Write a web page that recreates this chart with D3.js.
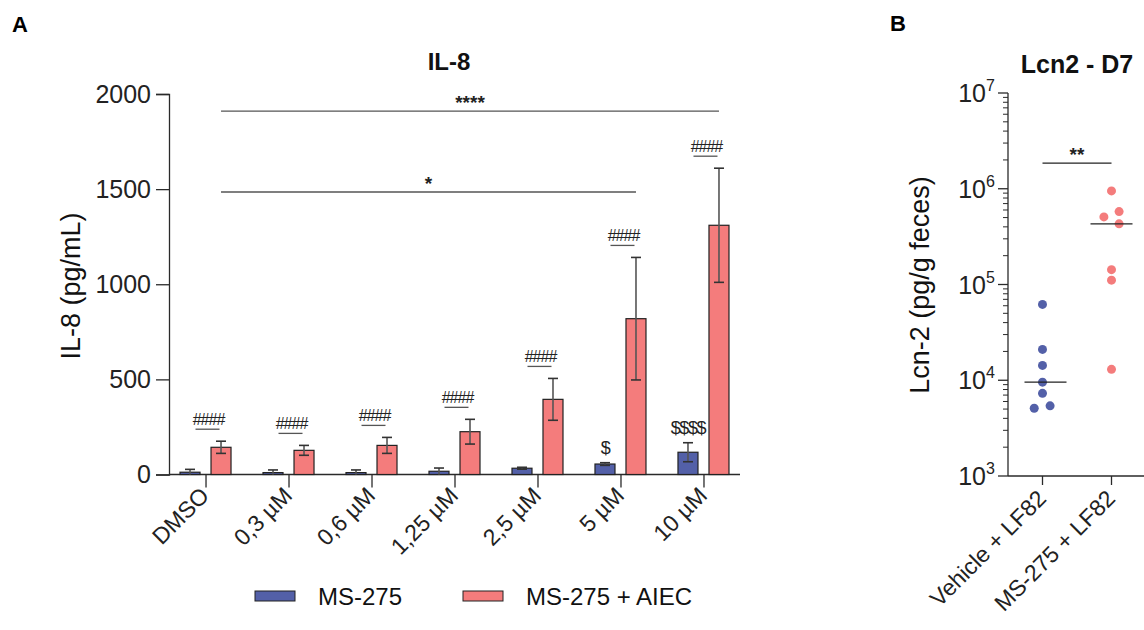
<!DOCTYPE html>
<html>
<head>
<meta charset="utf-8">
<script src="https://cdn.jsdelivr.net/npm/d3@7"></script>
<style>
  html, body { margin: 0; padding: 0; background: #fff; }
  svg { display: block; font-family: "Liberation Sans", Arial, sans-serif; }
</style>
</head>
<body>
<svg id="chart" width="1144" height="630"></svg>
<script>
// ---------------- DATA ----------------
// Panel A: IL-8
const categories = ["DMSO", "0,3 µM", "0,6 µM", "1,25 µM", "2,5 µM", "5 µM", "10 µM"];
const seriesNames = ["MS-275", "MS-275 + AIEC"];
const ms275Mean = [12, 10, 10, 17, 33, 55, 117];
const ms275Err  = [15, 14, 14, 17, 5, 7, 50];
const aiecMean  = [143, 127, 153, 225, 395, 819, 1310];
const aiecErr   = [32, 26, 42, 65, 110, 322, 300];
const hashLabels   = ["####", "####", "####", "####", "####", "####", "####"];
const dollarLabels = ["", "", "", "", "", "$", "$$$$"];
const yTicksA = [0, 500, 1000, 1500, 2000];
const bracketsA = [
  { from: "DMSO", to: "10 µM", value: 1910, label: "****" },
  { from: "DMSO", to: "5 µM",  value: 1485, label: "*" }
];

// Panel B: Lcn2 - D7
const groupsB = ["Vehicle + LF82", "MS-275 + LF82"];
const vehicleVals = [62000, 21000, 14300, 9550, 7300, 5100, 5400];
const vehicleJitter = [0, 0, 0, 0, 0, -0.12, 0.11];
const ms275Vals = [950000, 508000, 577000, 430000, 143000, 111000, 13000];
const ms275Jitter = [0, -0.11, 0.11, 0.11, 0, 0, 0];
const yTicksB = [1e3, 1e4, 1e5, 1e6, 1e7];
const bracketB = { value: 1.85e6, label: "**" };

// ---------------- STYLE ----------------
const blue = "#5360A8";
const red = "#F47C7C";
const ink = "#2a2a2a";

const svg = d3.select("#chart");

// ================= PANEL A =================
const xA = d3.scalePoint().domain(categories).range([169, 740]).padding(0.44);
const x1 = d3.scaleBand().domain(seriesNames).range([-25.5, 25.5]).paddingInner(0.355);
const yA = d3.scaleLinear().domain([0, 2000]).range([474.5, 94]);

const gA = svg.append("g");

// Panel label / title
svg.append("text").attr("x", 12).attr("y", 32).attr("font-size", 22).attr("font-weight", "bold").attr("fill", "#000").text("A");
svg.append("text").attr("x", 449).attr("y", 70).attr("text-anchor", "middle").attr("font-size", 24).attr("font-weight", "bold").attr("fill", "#111").text("IL-8");

// Y axis
const yAxisA = d3.axisLeft(yA).tickValues(yTicksA).tickSize(13).tickPadding(5).tickFormat(d3.format("d"));
const gy = gA.append("g").attr("transform", "translate(169,0)").call(yAxisA);
gy.select(".domain").attr("stroke", ink).attr("stroke-width", 1.3);
gy.selectAll(".tick line").attr("stroke", ink).attr("stroke-width", 1.3);
gy.selectAll(".tick text").attr("font-size", 25).attr("fill", "#222").attr("font-family", "Liberation Sans, Arial, sans-serif");

// X axis
const xAxisA = d3.axisBottom(xA).tickSize(13).tickSizeOuter(0).tickFormat("");
const gx = gA.append("g").attr("transform", "translate(0,474.5)").call(xAxisA);
gx.select(".domain").attr("stroke", ink).attr("stroke-width", 1.3).attr("d", "M169,0H740");
gx.selectAll(".tick line").attr("stroke", ink).attr("stroke-width", 1.3);

// X labels rotated
gA.append("g").selectAll("text").data(categories).join("text")
  .attr("transform", d => `translate(${xA(d) + 5},${497}) rotate(-45)`)
  .attr("text-anchor", "end")
  .attr("font-size", 23)
  .attr("fill", "#222")
  .text(d => d);

// Y title
gA.append("text")
  .attr("transform", "translate(80,286) rotate(-90)")
  .attr("text-anchor", "middle")
  .attr("font-size", 27)
  .attr("fill", "#111")
  .text("IL-8 (pg/mL)");

// Bars
const rows = categories.map((c, i) => ({
  cat: c,
  vals: [
    { s: seriesNames[0], m: ms275Mean[i], e: ms275Err[i], color: blue },
    { s: seriesNames[1], m: aiecMean[i], e: aiecErr[i], color: red }
  ]
}));

const grp = gA.append("g").selectAll("g").data(rows).join("g")
  .attr("transform", d => `translate(${xA(d.cat)},0)`);

grp.selectAll("rect").data(d => d.vals).join("rect")
  .attr("x", d => x1(d.s))
  .attr("width", x1.bandwidth())
  .attr("y", d => yA(d.m))
  .attr("height", d => yA(0) - yA(d.m))
  .attr("fill", d => d.color)
  .attr("stroke", "#222")
  .attr("stroke-width", 1.2);

// Error bars
const eb = grp.selectAll("g.eb").data(d => d.vals).join("g").attr("class", "eb");
eb.append("line")
  .attr("x1", d => x1(d.s) + x1.bandwidth() / 2).attr("x2", d => x1(d.s) + x1.bandwidth() / 2)
  .attr("y1", d => yA(Math.max(0, d.m - d.e))).attr("y2", d => yA(d.m + d.e))
  .attr("stroke", "#555").attr("stroke-width", 1.6);
eb.append("line")
  .attr("x1", d => x1(d.s) + x1.bandwidth() / 2 - 5).attr("x2", d => x1(d.s) + x1.bandwidth() / 2 + 5)
  .attr("y1", d => yA(d.m + d.e)).attr("y2", d => yA(d.m + d.e))
  .attr("stroke", "#333").attr("stroke-width", 1.6);
eb.filter(d => d.m - d.e > 0).append("line")
  .attr("x1", d => x1(d.s) + x1.bandwidth() / 2 - 5).attr("x2", d => x1(d.s) + x1.bandwidth() / 2 + 5)
  .attr("y1", d => yA(d.m - d.e)).attr("y2", d => yA(d.m - d.e))
  .attr("stroke", "#333").attr("stroke-width", 1.6);

// #### annotations
categories.forEach((c, i) => {
  const top = yA(aiecMean[i] + aiecErr[i]) - 12;
  const cx = xA(c) + 2;
  gA.append("line").attr("x1", cx - 12).attr("x2", cx + 12).attr("y1", top).attr("y2", top)
    .attr("stroke", "#555").attr("stroke-width", 1.3);
  gA.append("text").attr("x", cx + 1).attr("y", top - 4).attr("text-anchor", "middle")
    .attr("font-size", 16).attr("letter-spacing", -1).attr("fill", "#222").text(hashLabels[i]);
  if (dollarLabels[i]) {
    const bt = yA(ms275Mean[i] + ms275Err[i]) - 9;
    gA.append("text").attr("x", xA(c) + x1(seriesNames[0]) + x1.bandwidth() / 2).attr("y", bt)
      .attr("text-anchor", "middle").attr("font-size", 18).attr("letter-spacing", -1.4)
      .attr("fill", "#222").text(dollarLabels[i]);
  }
});

// Significance brackets
const redCenter = c => xA(c) + x1(seriesNames[1]) + x1.bandwidth() / 2;
bracketsA.forEach(b => {
  const y = yA(b.value);
  gA.append("line").attr("x1", redCenter(b.from)).attr("x2", redCenter(b.to)).attr("y1", y).attr("y2", y)
    .attr("stroke", "#555").attr("stroke-width", 1.3);
  gA.append("text").attr("x", (redCenter(b.from) + redCenter(b.to)) / 2).attr("y", y - 2)
    .attr("text-anchor", "middle").attr("font-size", 19).attr("font-weight", "bold").attr("fill", "#222").text(b.label);
});

// Legend
const legend = gA.append("g");
const legItems = [
  { name: seriesNames[0], color: blue, x: 255 },
  { name: seriesNames[1], color: red, x: 463 }
];
legItems.forEach(l => {
  legend.append("rect").attr("x", l.x).attr("y", 591).attr("width", 40).attr("height", 10)
    .attr("fill", l.color).attr("stroke", "#222").attr("stroke-width", 1);
  legend.append("text").attr("x", l.x + 63).attr("y", 605).attr("font-size", 24).attr("fill", "#111").text(l.name);
});

// ================= PANEL B =================
const xB = d3.scalePoint().domain(groupsB).range([1008, 1146]).padding(0.5);
const stepB = xB.step();
const yB = d3.scaleLog().domain([1e3, 1e7]).range([476, 93]);
const gB = svg.append("g");

svg.append("text").attr("x", 890).attr("y", 31).attr("font-size", 22).attr("font-weight", "bold").attr("fill", "#000").text("B");
svg.append("text").attr("x", 1077).attr("y", 73).attr("text-anchor", "middle").attr("font-size", 25).attr("font-weight", "bold").attr("fill", "#111").text("Lcn2 - D7");

// y axis line
gB.append("line").attr("x1", 1008).attr("x2", 1008).attr("y1", yB(1e7)).attr("y2", yB(1e3)).attr("stroke", ink).attr("stroke-width", 1.3);
// minor ticks
const minor = [];
for (let e = 3; e < 7; e++) for (let k = 2; k <= 9; k++) minor.push(k * Math.pow(10, e));
gB.append("g").selectAll("line").data(minor).join("line")
  .attr("x1", 1003).attr("x2", 1008).attr("y1", d => yB(d)).attr("y2", d => yB(d))
  .attr("stroke", ink).attr("stroke-width", 1);
// major ticks
gB.append("g").selectAll("line").data(yTicksB).join("line")
  .attr("x1", 998).attr("x2", 1008).attr("y1", d => yB(d)).attr("y2", d => yB(d))
  .attr("stroke", ink).attr("stroke-width", 1.3);
gB.append("g").selectAll("text").data(yTicksB).join("text")
  .attr("x", 986).attr("y", d => yB(d) + 9).attr("text-anchor", "end")
  .attr("font-size", 25).attr("fill", "#222").text("10");
gB.append("g").selectAll("text").data(yTicksB).join("text")
  .attr("x", 986).attr("y", d => yB(d) - 2)
  .attr("font-size", 16).attr("fill", "#222")
  .text(d => Math.round(Math.log10(d)));

// x axis
gB.append("line").attr("x1", 1008).attr("x2", 1144).attr("y1", yB(1e3)).attr("y2", yB(1e3)).attr("stroke", ink).attr("stroke-width", 1.3);
gB.append("g").selectAll("line").data(groupsB).join("line")
  .attr("x1", d => xB(d)).attr("x2", d => xB(d)).attr("y1", yB(1e3)).attr("y2", yB(1e3) + 9)
  .attr("stroke", ink).attr("stroke-width", 1.3);
gB.append("g").selectAll("text").data(groupsB).join("text")
  .attr("transform", d => `translate(${xB(d) + 5},${500}) rotate(-45)`)
  .attr("text-anchor", "end").attr("font-size", 23).attr("fill", "#222").text(d => d);

// y title
gB.append("text").attr("transform", "translate(929,285) rotate(-90)").attr("text-anchor", "middle")
  .attr("font-size", 27).attr("fill", "#111").text("Lcn-2 (pg/g feces)");

// dots
const ptsB = [
  ...vehicleVals.map((v, i) => ({ g: groupsB[0], v, j: vehicleJitter[i], color: blue })),
  ...ms275Vals.map((v, i) => ({ g: groupsB[1], v, j: ms275Jitter[i], color: red }))
];
gB.append("g").selectAll("circle").data(ptsB).join("circle")
  .attr("cx", d => xB(d.g) + d.j * stepB).attr("cy", d => yB(d.v)).attr("r", 4.5)
  .attr("fill", d => d.color);

// medians
const medians = [
  { g: groupsB[0], v: d3.median(vehicleVals), off: 3 },
  { g: groupsB[1], v: d3.median(ms275Vals), off: 0 }
];
gB.append("g").selectAll("line").data(medians).join("line")
  .attr("x1", d => xB(d.g) - 21 + d.off).attr("x2", d => xB(d.g) + 21 + d.off)
  .attr("y1", d => yB(d.v)).attr("y2", d => yB(d.v))
  .attr("stroke", "#222").attr("stroke-width", 1.3);

// bracket
const by = yB(bracketB.value);
gB.append("line").attr("x1", xB(groupsB[0])).attr("x2", xB(groupsB[1])).attr("y1", by).attr("y2", by)
  .attr("stroke", "#222").attr("stroke-width", 1.3);
gB.append("text").attr("x", (xB(groupsB[0]) + xB(groupsB[1])) / 2).attr("y", by - 2)
  .attr("text-anchor", "middle").attr("font-size", 19).attr("font-weight", "bold").attr("fill", "#222").text(bracketB.label);
</script>
</body>
</html>
